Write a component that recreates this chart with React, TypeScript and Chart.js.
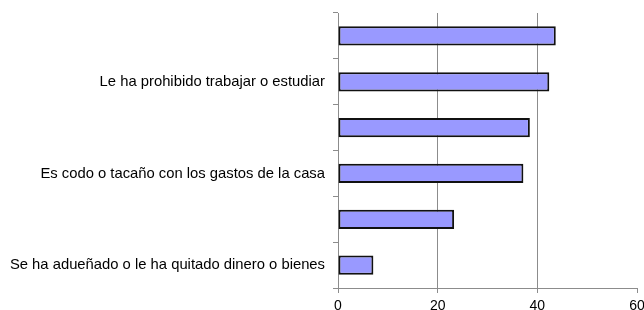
import React, { useEffect, useRef } from "react";
import { Chart, registerables } from "chart.js";

Chart.register(...registerables);

const categories: string[] = [
  "",
  "Le ha prohibido trabajar o estudiar",
  "",
  "Es codo o tacaño con los gastos de la casa",
  "",
  "Se ha adueñado o le ha quitado dinero o bienes",
];
const values: number[] = [43.7, 42.4, 38.5, 37.2, 23.3, 7.1];
const xMin = 0;
const xMax = 60;
const xStep = 20;

export default function App() {
  const ref = useRef<HTMLCanvasElement | null>(null);
  useEffect(() => {
    if (!ref.current) return;
    const chart = new Chart(ref.current, {
      type: "bar",
      data: {
        labels: categories,
        datasets: [
          {
            data: values,
            backgroundColor: "#9999FF",
            borderColor: "#111111",
            borderWidth: 2,
            borderSkipped: false,
            barPercentage: 0.42,
            categoryPercentage: 1,
          },
        ],
      },
      options: {
        indexAxis: "y",
        animation: false,
        responsive: false,
        maintainAspectRatio: false,
        layout: { padding: { top: 13, right: 15, left: 0, bottom: 0 } },
        plugins: { legend: { display: false }, tooltip: { enabled: false } },
        scales: {
          x: {
            min: xMin,
            max: xMax,
            ticks: {
              stepSize: xStep,
              color: "#000",
              font: { family: "Liberation Sans", size: 14 },
              padding: 5,
              maxRotation: 0,
            },
            grid: {
              color: (ctx: any) =>
                ctx.tick && (ctx.tick.value === 20 || ctx.tick.value === 40)
                  ? "#8c8c8c"
                  : "rgba(0,0,0,0)",
              tickColor: "#8c8c8c",
              tickLength: 5,
              lineWidth: 1,
            },
            border: { color: "#8c8c8c", width: 1 },
            afterFit: (scale: any) => {
              scale.height = 22;
            },
          },
          y: {
            ticks: {
              color: "#000",
              font: { family: "Liberation Sans", size: 14.8 },
              padding: 8,
              autoSkip: false,
            },
            grid: {
              offset: true,
              drawOnChartArea: false,
              tickColor: "#8c8c8c",
              tickLength: 5,
            },
            border: { color: "#8c8c8c", width: 1 },
            afterFit: (scale: any) => {
              scale.width = 338;
              scale.paddingTop = 0;
              scale.paddingBottom = 0;
            },
          },
        },
      },
    });
    return () => chart.destroy();
  }, []);
  return (
    <div style={{ position: "fixed", left: 0, top: 0, width: 644, height: 310, overflow: "hidden", background: "#fff" }}>
      <canvas ref={ref} width={652} height={310} style={{ width: 652, height: 310 }} />
    </div>
  );
}
